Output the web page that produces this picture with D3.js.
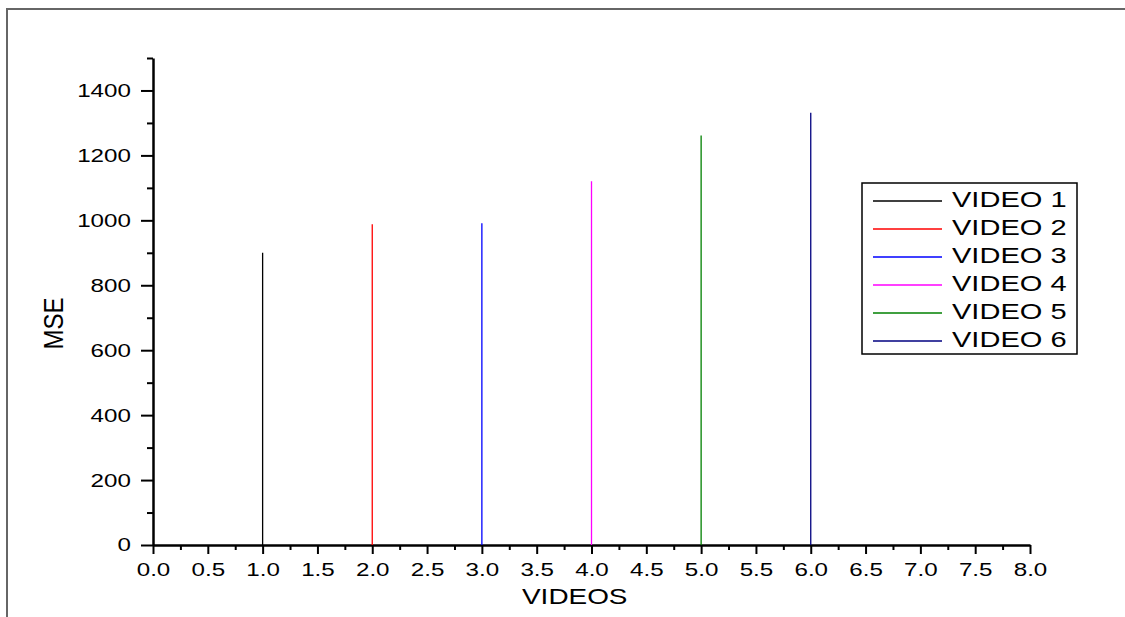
<!DOCTYPE html>
<html>
<head>
<meta charset="utf-8">
<script src="https://cdn.jsdelivr.net/npm/d3@7"></script>
<style>
  body { margin: 0; background: #fff; }
  text { font-family: "Liberation Sans", Arial, sans-serif; fill: #000; }
</style>
</head>
<body>
<div id="viz"></div>
<script>
/*** data ***/
const videos = ["VIDEO 1", "VIDEO 2", "VIDEO 3", "VIDEO 4", "VIDEO 5", "VIDEO 6"];
const positions = [1, 2, 3, 4, 5, 6];
const mse = [900, 988, 991, 1120, 1261, 1331];
const colors = ["#000000", "#ff0000", "#0000ff", "#ff00ff", "#008000", "#000080"];
const xTicks = d3.range(0, 8.01, 0.5);
const yTicks = [0, 200, 400, 600, 800, 1000, 1200, 1400];

const width = 1125, height = 617;
const stretch = 1.3; // the source picture is wider than tall text

const svg = d3.select("#viz")
  .append("svg")
  .attr("width", width)
  .attr("height", height);

svg.append("rect").attr("width", width).attr("height", height).attr("fill", "#fff");

// page frame
svg.append("path")
  .attr("d", "M7,617V9H1125")
  .attr("fill", "none")
  .attr("stroke", "#666")
  .attr("stroke-width", 2);

const x = d3.scaleLinear().domain([0, 8]).range([153, 1030]);
const y = d3.scaleLinear().domain([0, 1500]).range([545, 58]);

// minor ticks
svg.append("g")
  .attr("transform", `translate(0,${y(0)})`)
  .call(d3.axisBottom(x).tickValues(d3.range(0.25, 8, 0.5)).tickSize(5).tickSizeOuter(0).tickFormat(""))
  .call(g => g.select(".domain").remove())
  .selectAll("line").attr("stroke-width", 2);

svg.append("g")
  .attr("transform", `translate(${x(0)},0)`)
  .call(d3.axisLeft(y).tickValues(d3.range(100, 1501, 200)).tickSize(6).tickSizeOuter(0).tickFormat(""))
  .call(g => g.select(".domain").remove())
  .selectAll("line").attr("stroke-width", 2);

// x axis
const xAxis = svg.append("g")
  .attr("transform", `translate(0,${y(0)})`)
  .call(d3.axisBottom(x).tickValues(xTicks).tickSize(9).tickPadding(9).tickSizeOuter(0).tickFormat(d3.format(".1f")));
xAxis.select(".domain").attr("stroke-width", 2.5);
xAxis.selectAll("line").attr("stroke-width", 2);
xAxis.selectAll("text")
  .attr("font-size", 18.6)
  .attr("transform", `scale(${stretch},1)`);

// y axis
const yAxis = svg.append("g")
  .attr("transform", `translate(${x(0)},0)`)
  .call(d3.axisLeft(y).tickValues(yTicks).tickSize(12).tickPadding(5).tickSizeOuter(0).tickFormat(d3.format("d")));
yAxis.select(".domain").attr("stroke-width", 2.5);
yAxis.selectAll("line").attr("stroke-width", 2);
yAxis.selectAll("text")
  .attr("font-size", 18.6)
  .attr("transform", `scale(${stretch},1)`);

// axis titles
svg.append("text")
  .attr("transform", `translate(522,604) scale(1.27,1)`)
  .attr("font-size", 22)
  .text("VIDEOS");

svg.append("text")
  .attr("transform", `translate(63,323.5) rotate(-90) scale(1,1.12)`)
  .attr("text-anchor", "middle")
  .attr("font-size", 24)
  .text("MSE");

// drop lines
svg.append("g")
  .selectAll("line")
  .data(positions)
  .join("line")
  .attr("x1", d => x(d))
  .attr("x2", d => x(d))
  .attr("y1", y(0))
  .attr("y2", (d, i) => y(mse[i]))
  .attr("stroke", (d, i) => colors[i])
  .attr("stroke-width", 1.3);

// legend
const legend = svg.append("g");
legend.append("rect")
  .attr("x", 862).attr("y", 183)
  .attr("width", 215).attr("height", 171)
  .attr("fill", "#fff")
  .attr("stroke", "#000")
  .attr("stroke-width", 1.5);

const row = legend.selectAll("g.row")
  .data(videos)
  .join("g")
  .attr("class", "row")
  .attr("transform", (d, i) => `translate(0,${201 + i * 28})`);

row.append("line")
  .attr("x1", 873).attr("x2", 942)
  .attr("stroke", (d, i) => colors[i])
  .attr("stroke-width", 1.3);

row.append("text")
  .attr("transform", `translate(952,6) scale(1.32,1)`)
  .attr("font-size", 22)
  .text(d => d);
</script>
</body>
</html>
